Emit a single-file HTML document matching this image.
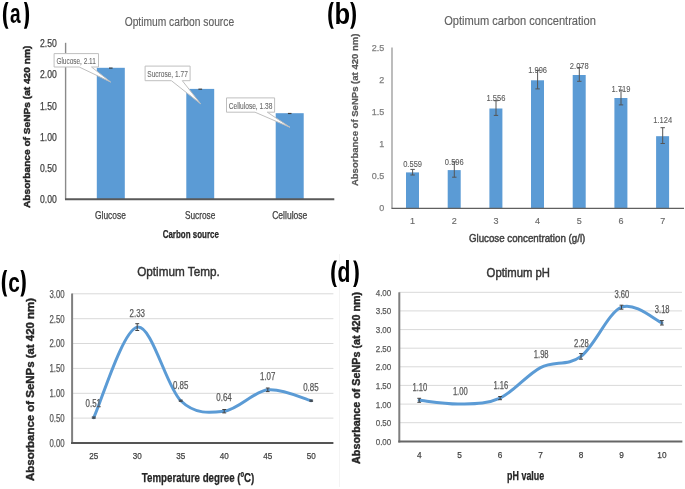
<!DOCTYPE html>
<html><head><meta charset="utf-8"><style>
html,body{margin:0;padding:0;background:#fff;}
svg{display:block;will-change:transform;filter:blur(0.4px);}
text{font-family:"Liberation Sans", sans-serif;}
</style></head><body>
<svg width="685" height="489" viewBox="0 0 685 489">
<rect width="685" height="489" fill="#fff"/>
<line x1="339.5" y1="254.0" x2="339.5" y2="487.0" stroke="#f4f4f4" stroke-width="1"/>
<path d="M5.90,2.00 C1.90,7.90 1.90,22.90 5.90,28.80 L8.50,28.80 C5.43,22.90 5.43,7.90 8.50,2.00 Z" fill="#000"/>
<path d="M26.50,2.00 C29.97,7.90 29.97,22.90 26.50,28.80 L23.90,28.80 C26.43,22.90 26.43,7.90 23.90,2.00 Z" fill="#000"/>
<text x="10.1" y="23.0" font-size="27.8" fill="#000" font-weight="bold" text-anchor="start" textLength="10.6" lengthAdjust="spacingAndGlyphs">a</text>
<path d="M331.20,2.00 C327.20,7.90 327.20,22.90 331.20,28.80 L333.80,28.80 C330.73,22.90 330.73,7.90 333.80,2.00 Z" fill="#000"/>
<path d="M352.70,2.00 C357.10,7.90 357.10,22.90 352.70,28.80 L350.10,28.80 C353.57,22.90 353.57,7.90 350.10,2.00 Z" fill="#000"/>
<text x="334.5" y="23.6" font-size="29.0" fill="#000" font-weight="bold" text-anchor="start" textLength="15.6" lengthAdjust="spacingAndGlyphs">b</text>
<path d="M4.60,270.00 C0.87,275.83 0.87,290.67 4.60,296.50 L7.20,296.50 C4.40,290.67 4.40,275.83 7.20,270.00 Z" fill="#000"/>
<path d="M23.00,270.00 C26.73,275.83 26.73,290.67 23.00,296.50 L20.40,296.50 C23.20,290.67 23.20,275.83 20.40,270.00 Z" fill="#000"/>
<text x="8.3" y="291.5" font-size="28.3" fill="#000" font-weight="bold" text-anchor="start" textLength="11.6" lengthAdjust="spacingAndGlyphs">c</text>
<path d="M334.30,260.40 C330.17,266.23 330.17,281.07 334.30,286.90 L336.90,286.90 C333.70,281.07 333.70,266.23 336.90,260.40 Z" fill="#000"/>
<path d="M355.70,260.40 C359.83,266.23 359.83,281.07 355.70,286.90 L353.10,286.90 C356.30,281.07 356.30,266.23 353.10,260.40 Z" fill="#000"/>
<text x="337.5" y="281.9" font-size="28.7" fill="#000" font-weight="bold" text-anchor="start" textLength="12.9" lengthAdjust="spacingAndGlyphs">d</text>
<text x="124.7" y="25.9" font-size="12.3" fill="#606060" font-weight="normal" text-anchor="start" textLength="109.4" lengthAdjust="spacingAndGlyphs" stroke="#606060" stroke-width="0.15">Optimum carbon source</text>
<text x="40.0" y="202.8" font-size="10.3" fill="#404040" font-weight="normal" text-anchor="start" textLength="16.8" lengthAdjust="spacingAndGlyphs" stroke="#404040" stroke-width="0.25">0.00</text>
<text x="40.0" y="171.7" font-size="10.3" fill="#404040" font-weight="normal" text-anchor="start" textLength="16.8" lengthAdjust="spacingAndGlyphs" stroke="#404040" stroke-width="0.25">0.50</text>
<text x="40.0" y="140.6" font-size="10.3" fill="#404040" font-weight="normal" text-anchor="start" textLength="16.8" lengthAdjust="spacingAndGlyphs" stroke="#404040" stroke-width="0.25">1.00</text>
<text x="40.0" y="109.5" font-size="10.3" fill="#404040" font-weight="normal" text-anchor="start" textLength="16.8" lengthAdjust="spacingAndGlyphs" stroke="#404040" stroke-width="0.25">1.50</text>
<text x="40.0" y="78.4" font-size="10.3" fill="#404040" font-weight="normal" text-anchor="start" textLength="16.8" lengthAdjust="spacingAndGlyphs" stroke="#404040" stroke-width="0.25">2.00</text>
<text x="40.0" y="47.3" font-size="10.3" fill="#404040" font-weight="normal" text-anchor="start" textLength="16.8" lengthAdjust="spacingAndGlyphs" stroke="#404040" stroke-width="0.25">2.50</text>
<line x1="65.6" y1="42.8" x2="65.6" y2="199.5" stroke="#8a8a8a" stroke-width="1.4"/>
<rect x="96.8" y="67.8" width="28.0" height="131.2" fill="#5B9BD5"/>
<line x1="109.0" y1="68.1" x2="112.6" y2="68.1" stroke="#404040" stroke-width="1.2"/>
<text x="95.0" y="218.5" font-size="10.3" fill="#404040" font-weight="normal" text-anchor="start" textLength="30.8" lengthAdjust="spacingAndGlyphs" stroke="#404040" stroke-width="0.25">Glucose</text>
<rect x="186.3" y="88.9" width="27.9" height="110.1" fill="#5B9BD5"/>
<line x1="198.4" y1="89.2" x2="202.1" y2="89.2" stroke="#404040" stroke-width="1.2"/>
<text x="184.9" y="218.5" font-size="10.3" fill="#404040" font-weight="normal" text-anchor="start" textLength="30.5" lengthAdjust="spacingAndGlyphs" stroke="#404040" stroke-width="0.25">Sucrose</text>
<rect x="275.7" y="113.2" width="28.0" height="85.8" fill="#5B9BD5"/>
<line x1="287.9" y1="113.5" x2="291.5" y2="113.5" stroke="#404040" stroke-width="1.2"/>
<text x="272.2" y="218.5" font-size="10.3" fill="#404040" font-weight="normal" text-anchor="start" textLength="35.1" lengthAdjust="spacingAndGlyphs" stroke="#404040" stroke-width="0.25">Cellulose</text>
<line x1="65.0" y1="199.3" x2="334.3" y2="199.3" stroke="#595959" stroke-width="2"/>
<text x="162.7" y="238.0" font-size="10.7" fill="#262626" font-weight="bold" text-anchor="start" textLength="56.2" lengthAdjust="spacingAndGlyphs" stroke="#262626" stroke-width="0.25">Carbon source</text>
<text transform="translate(29.9,208.0) rotate(-90)" font-size="9.9" fill="#262626" font-weight="bold" textLength="162.3" lengthAdjust="spacingAndGlyphs" stroke="#262626" stroke-width="0.45">Absorbance of SeNPs (at 420 nm)</text>
<path d="M54.1,53.6 L98.5,53.6 L98.5,67.0 L91.5,67.0 L110.7,82.1 L79.2,67.0 L54.1,67.0 Z" stroke="#BFBFBF" stroke-width="1" fill="#fff"/>
<text x="56.4" y="63.6" font-size="8.2" fill="#6a6a6a" font-weight="normal" text-anchor="start" textLength="39.4" lengthAdjust="spacingAndGlyphs" stroke="#6a6a6a" stroke-width="0.1">Glucose, 2.11</text>
<path d="M145.1,66.1 L190.1,66.1 L190.1,80.7 L182.3,80.7 L200.6,103.8 L171.4,80.7 L145.1,80.7 Z" stroke="#BFBFBF" stroke-width="1" fill="#fff"/>
<text x="147.3" y="77.3" font-size="8.2" fill="#6a6a6a" font-weight="normal" text-anchor="start" textLength="40.5" lengthAdjust="spacingAndGlyphs" stroke="#6a6a6a" stroke-width="0.1">Sucrose, 1.77</text>
<path d="M226.5,97.9 L274.6,97.9 L274.6,112.2 L267.3,112.2 L290.0,127.3 L255.0,112.2 L226.5,112.2 Z" stroke="#BFBFBF" stroke-width="1" fill="#fff"/>
<text x="228.7" y="108.8" font-size="8.2" fill="#6a6a6a" font-weight="normal" text-anchor="start" textLength="43.7" lengthAdjust="spacingAndGlyphs" stroke="#6a6a6a" stroke-width="0.1">Cellulose, 1.38</text>
<text x="444.2" y="25.2" font-size="11.9" fill="#626262" font-weight="normal" text-anchor="start" textLength="151.7" lengthAdjust="spacingAndGlyphs" stroke="#626262" stroke-width="0.15">Optimum carbon concentration</text>
<text x="384.2" y="211.3" font-size="9" fill="#7f7f7f" font-weight="normal" text-anchor="end" stroke="#7f7f7f" stroke-width="0.25">0</text>
<text x="384.2" y="179.2" font-size="9" fill="#7f7f7f" font-weight="normal" text-anchor="end" stroke="#7f7f7f" stroke-width="0.25">0.5</text>
<text x="384.2" y="147.2" font-size="9" fill="#7f7f7f" font-weight="normal" text-anchor="end" stroke="#7f7f7f" stroke-width="0.25">1</text>
<text x="384.2" y="115.1" font-size="9" fill="#7f7f7f" font-weight="normal" text-anchor="end" stroke="#7f7f7f" stroke-width="0.25">1.5</text>
<text x="384.2" y="83.0" font-size="9" fill="#7f7f7f" font-weight="normal" text-anchor="end" stroke="#7f7f7f" stroke-width="0.25">2</text>
<text x="384.2" y="50.9" font-size="9" fill="#7f7f7f" font-weight="normal" text-anchor="end" stroke="#7f7f7f" stroke-width="0.25">2.5</text>
<line x1="392.0" y1="47.4" x2="392.0" y2="208.5" stroke="#999999" stroke-width="1.3"/>
<rect x="406.0" y="172.4" width="13.0" height="35.9" fill="#5B9BD5"/>
<line x1="412.6" y1="169.4" x2="412.6" y2="175.0" stroke="#555555" stroke-width="1"/>
<line x1="410.4" y1="169.4" x2="414.8" y2="169.4" stroke="#555555" stroke-width="1"/>
<line x1="410.4" y1="175.0" x2="414.8" y2="175.0" stroke="#555555" stroke-width="1"/>
<text x="412.6" y="167.3" font-size="9.8" fill="#5a5a5a" font-weight="normal" text-anchor="middle" textLength="18.9" lengthAdjust="spacingAndGlyphs" stroke="#5a5a5a" stroke-width="0.1">0.559</text>
<text x="412.6" y="223.6" font-size="9" fill="#6a6a6a" font-weight="normal" text-anchor="middle" stroke="#6a6a6a" stroke-width="0.15">1</text>
<rect x="447.7" y="170.1" width="13.0" height="38.2" fill="#5B9BD5"/>
<line x1="454.3" y1="161.9" x2="454.3" y2="177.2" stroke="#555555" stroke-width="1"/>
<line x1="452.1" y1="161.9" x2="456.5" y2="161.9" stroke="#555555" stroke-width="1"/>
<line x1="452.1" y1="177.2" x2="456.5" y2="177.2" stroke="#555555" stroke-width="1"/>
<text x="454.3" y="165.0" font-size="9.8" fill="#5a5a5a" font-weight="normal" text-anchor="middle" textLength="18.9" lengthAdjust="spacingAndGlyphs" stroke="#5a5a5a" stroke-width="0.1">0.596</text>
<text x="454.3" y="223.6" font-size="9" fill="#6a6a6a" font-weight="normal" text-anchor="middle" stroke="#6a6a6a" stroke-width="0.15">2</text>
<rect x="489.4" y="108.5" width="13.0" height="99.8" fill="#5B9BD5"/>
<line x1="496.0" y1="100.7" x2="496.0" y2="115.4" stroke="#555555" stroke-width="1"/>
<line x1="493.8" y1="100.7" x2="498.2" y2="100.7" stroke="#555555" stroke-width="1"/>
<line x1="493.8" y1="115.4" x2="498.2" y2="115.4" stroke="#555555" stroke-width="1"/>
<text x="496.0" y="100.9" font-size="9.8" fill="#5a5a5a" font-weight="normal" text-anchor="middle" textLength="18.9" lengthAdjust="spacingAndGlyphs" stroke="#5a5a5a" stroke-width="0.1">1.556</text>
<text x="496.0" y="223.6" font-size="9" fill="#6a6a6a" font-weight="normal" text-anchor="middle" stroke="#6a6a6a" stroke-width="0.15">3</text>
<rect x="531.0" y="80.3" width="13.0" height="128.0" fill="#5B9BD5"/>
<line x1="537.6" y1="70.4" x2="537.6" y2="88.9" stroke="#555555" stroke-width="1"/>
<line x1="535.4" y1="70.4" x2="539.8" y2="70.4" stroke="#555555" stroke-width="1"/>
<line x1="535.4" y1="88.9" x2="539.8" y2="88.9" stroke="#555555" stroke-width="1"/>
<text x="537.6" y="72.6" font-size="9.8" fill="#5a5a5a" font-weight="normal" text-anchor="middle" textLength="18.9" lengthAdjust="spacingAndGlyphs" stroke="#5a5a5a" stroke-width="0.1">1.996</text>
<text x="537.6" y="223.6" font-size="9" fill="#6a6a6a" font-weight="normal" text-anchor="middle" stroke="#6a6a6a" stroke-width="0.15">4</text>
<rect x="572.7" y="75.0" width="13.0" height="133.3" fill="#5B9BD5"/>
<line x1="579.3" y1="67.5" x2="579.3" y2="81.3" stroke="#555555" stroke-width="1"/>
<line x1="577.1" y1="67.5" x2="581.5" y2="67.5" stroke="#555555" stroke-width="1"/>
<line x1="577.1" y1="81.3" x2="581.5" y2="81.3" stroke="#555555" stroke-width="1"/>
<text x="579.3" y="69.2" font-size="9.8" fill="#5a5a5a" font-weight="normal" text-anchor="middle" textLength="18.9" lengthAdjust="spacingAndGlyphs" stroke="#5a5a5a" stroke-width="0.1">2.078</text>
<text x="579.3" y="223.6" font-size="9" fill="#6a6a6a" font-weight="normal" text-anchor="middle" stroke="#6a6a6a" stroke-width="0.15">5</text>
<rect x="614.4" y="98.0" width="13.0" height="110.3" fill="#5B9BD5"/>
<line x1="621.0" y1="90.1" x2="621.0" y2="104.9" stroke="#555555" stroke-width="1"/>
<line x1="618.8" y1="90.1" x2="623.2" y2="90.1" stroke="#555555" stroke-width="1"/>
<line x1="618.8" y1="104.9" x2="623.2" y2="104.9" stroke="#555555" stroke-width="1"/>
<text x="621.0" y="92.2" font-size="9.8" fill="#5a5a5a" font-weight="normal" text-anchor="middle" textLength="18.9" lengthAdjust="spacingAndGlyphs" stroke="#5a5a5a" stroke-width="0.1">1.719</text>
<text x="621.0" y="223.6" font-size="9" fill="#6a6a6a" font-weight="normal" text-anchor="middle" stroke="#6a6a6a" stroke-width="0.15">6</text>
<rect x="656.1" y="136.2" width="13.0" height="72.1" fill="#5B9BD5"/>
<line x1="662.7" y1="127.7" x2="662.7" y2="143.5" stroke="#555555" stroke-width="1"/>
<line x1="660.5" y1="127.7" x2="664.9" y2="127.7" stroke="#555555" stroke-width="1"/>
<line x1="660.5" y1="143.5" x2="664.9" y2="143.5" stroke="#555555" stroke-width="1"/>
<text x="662.7" y="122.9" font-size="9.8" fill="#5a5a5a" font-weight="normal" text-anchor="middle" textLength="18.9" lengthAdjust="spacingAndGlyphs" stroke="#5a5a5a" stroke-width="0.1">1.124</text>
<text x="662.7" y="223.6" font-size="9" fill="#6a6a6a" font-weight="normal" text-anchor="middle" stroke="#6a6a6a" stroke-width="0.15">7</text>
<line x1="391.5" y1="208.4" x2="684.0" y2="208.4" stroke="#606060" stroke-width="1.3"/>
<text x="468.9" y="242.4" font-size="10.8" fill="#404040" font-weight="normal" text-anchor="start" textLength="116.4" lengthAdjust="spacingAndGlyphs" stroke="#404040" stroke-width="0.45">Glucose concentration (g/l)</text>
<text transform="translate(358.0,186.1) rotate(-90)" font-size="9.2" fill="#595959" font-weight="bold" textLength="152.5" lengthAdjust="spacingAndGlyphs" stroke="#595959" stroke-width="0.25">Absorbance of SeNPs (at 420 nm)</text>
<line x1="72.0" y1="418.1" x2="333.4" y2="418.1" stroke="#d9d9d9" stroke-width="1"/>
<line x1="72.0" y1="393.3" x2="333.4" y2="393.3" stroke="#d9d9d9" stroke-width="1"/>
<line x1="72.0" y1="368.4" x2="333.4" y2="368.4" stroke="#d9d9d9" stroke-width="1"/>
<line x1="72.0" y1="343.5" x2="333.4" y2="343.5" stroke="#d9d9d9" stroke-width="1"/>
<line x1="72.0" y1="318.7" x2="333.4" y2="318.7" stroke="#d9d9d9" stroke-width="1"/>
<line x1="72.0" y1="293.8" x2="333.4" y2="293.8" stroke="#d9d9d9" stroke-width="1"/>
<text x="49.4" y="446.9" font-size="10" fill="#595959" font-weight="normal" text-anchor="start" textLength="15.2" lengthAdjust="spacingAndGlyphs" stroke="#595959" stroke-width="0.25">0.00</text>
<text x="49.4" y="422.0" font-size="10" fill="#595959" font-weight="normal" text-anchor="start" textLength="15.2" lengthAdjust="spacingAndGlyphs" stroke="#595959" stroke-width="0.25">0.50</text>
<text x="49.4" y="397.2" font-size="10" fill="#595959" font-weight="normal" text-anchor="start" textLength="15.2" lengthAdjust="spacingAndGlyphs" stroke="#595959" stroke-width="0.25">1.00</text>
<text x="49.4" y="372.3" font-size="10" fill="#595959" font-weight="normal" text-anchor="start" textLength="15.2" lengthAdjust="spacingAndGlyphs" stroke="#595959" stroke-width="0.25">1.50</text>
<text x="49.4" y="347.4" font-size="10" fill="#595959" font-weight="normal" text-anchor="start" textLength="15.2" lengthAdjust="spacingAndGlyphs" stroke="#595959" stroke-width="0.25">2.00</text>
<text x="49.4" y="322.6" font-size="10" fill="#595959" font-weight="normal" text-anchor="start" textLength="15.2" lengthAdjust="spacingAndGlyphs" stroke="#595959" stroke-width="0.25">2.50</text>
<text x="49.4" y="297.7" font-size="10" fill="#595959" font-weight="normal" text-anchor="start" textLength="15.2" lengthAdjust="spacingAndGlyphs" stroke="#595959" stroke-width="0.25">3.00</text>
<line x1="72.1" y1="293.5" x2="72.1" y2="444.0" stroke="#7f7f7f" stroke-width="2"/>
<line x1="71.1" y1="443.1" x2="333.4" y2="443.1" stroke="#555555" stroke-width="2"/>
<path d="M93.75,417.64 C101.00,402.55 122.75,329.95 137.25,327.13 C151.75,324.31 166.25,386.72 180.75,400.73 C195.25,414.74 209.75,413.00 224.25,411.17 C238.75,409.35 253.25,391.53 267.75,389.79 C282.25,388.05 304.00,398.91 311.25,400.73" stroke="#5B9BD5" stroke-width="3.0" fill="none" stroke-linecap="round"/>
<line x1="93.8" y1="417.0" x2="93.8" y2="418.2" stroke="#404040" stroke-width="1"/>
<line x1="91.8" y1="417.0" x2="95.7" y2="417.0" stroke="#404040" stroke-width="1"/>
<line x1="91.8" y1="418.2" x2="95.7" y2="418.2" stroke="#404040" stroke-width="1"/>
<line x1="137.2" y1="323.7" x2="137.2" y2="330.5" stroke="#404040" stroke-width="1"/>
<line x1="135.3" y1="323.7" x2="139.2" y2="323.7" stroke="#404040" stroke-width="1"/>
<line x1="135.3" y1="330.5" x2="139.2" y2="330.5" stroke="#404040" stroke-width="1"/>
<line x1="180.8" y1="400.1" x2="180.8" y2="401.3" stroke="#404040" stroke-width="1"/>
<line x1="178.8" y1="400.1" x2="182.7" y2="400.1" stroke="#404040" stroke-width="1"/>
<line x1="178.8" y1="401.3" x2="182.7" y2="401.3" stroke="#404040" stroke-width="1"/>
<line x1="224.2" y1="409.5" x2="224.2" y2="412.9" stroke="#404040" stroke-width="1"/>
<line x1="222.3" y1="409.5" x2="226.2" y2="409.5" stroke="#404040" stroke-width="1"/>
<line x1="222.3" y1="412.9" x2="226.2" y2="412.9" stroke="#404040" stroke-width="1"/>
<line x1="267.8" y1="388.0" x2="267.8" y2="391.6" stroke="#404040" stroke-width="1"/>
<line x1="265.9" y1="388.0" x2="269.6" y2="388.0" stroke="#404040" stroke-width="1"/>
<line x1="265.9" y1="391.6" x2="269.6" y2="391.6" stroke="#404040" stroke-width="1"/>
<line x1="311.2" y1="400.1" x2="311.2" y2="401.3" stroke="#404040" stroke-width="1"/>
<line x1="309.4" y1="400.1" x2="313.1" y2="400.1" stroke="#404040" stroke-width="1"/>
<line x1="309.4" y1="401.3" x2="313.1" y2="401.3" stroke="#404040" stroke-width="1"/>
<text x="93.3" y="406.9" font-size="10.2" fill="#595959" font-weight="normal" text-anchor="middle" textLength="15.4" lengthAdjust="spacingAndGlyphs" stroke="#595959" stroke-width="0.25">0.51</text>
<text x="137.3" y="316.6" font-size="10.2" fill="#595959" font-weight="normal" text-anchor="middle" textLength="15.4" lengthAdjust="spacingAndGlyphs" stroke="#595959" stroke-width="0.25">2.33</text>
<text x="180.7" y="389.4" font-size="10.2" fill="#595959" font-weight="normal" text-anchor="middle" textLength="15.4" lengthAdjust="spacingAndGlyphs" stroke="#595959" stroke-width="0.25">0.85</text>
<text x="224.0" y="400.9" font-size="10.2" fill="#595959" font-weight="normal" text-anchor="middle" textLength="15.4" lengthAdjust="spacingAndGlyphs" stroke="#595959" stroke-width="0.25">0.64</text>
<text x="267.7" y="379.6" font-size="10.2" fill="#595959" font-weight="normal" text-anchor="middle" textLength="15.4" lengthAdjust="spacingAndGlyphs" stroke="#595959" stroke-width="0.25">1.07</text>
<text x="310.9" y="390.6" font-size="10.2" fill="#595959" font-weight="normal" text-anchor="middle" textLength="15.4" lengthAdjust="spacingAndGlyphs" stroke="#595959" stroke-width="0.25">0.85</text>
<text x="93.8" y="458.9" font-size="9.8" fill="#404040" font-weight="normal" text-anchor="middle" textLength="9.0" lengthAdjust="spacingAndGlyphs" stroke="#404040" stroke-width="0.25">25</text>
<text x="137.2" y="458.9" font-size="9.8" fill="#404040" font-weight="normal" text-anchor="middle" textLength="9.0" lengthAdjust="spacingAndGlyphs" stroke="#404040" stroke-width="0.25">30</text>
<text x="180.8" y="458.9" font-size="9.8" fill="#404040" font-weight="normal" text-anchor="middle" textLength="9.0" lengthAdjust="spacingAndGlyphs" stroke="#404040" stroke-width="0.25">35</text>
<text x="224.2" y="458.9" font-size="9.8" fill="#404040" font-weight="normal" text-anchor="middle" textLength="9.0" lengthAdjust="spacingAndGlyphs" stroke="#404040" stroke-width="0.25">40</text>
<text x="267.8" y="458.9" font-size="9.8" fill="#404040" font-weight="normal" text-anchor="middle" textLength="9.0" lengthAdjust="spacingAndGlyphs" stroke="#404040" stroke-width="0.25">45</text>
<text x="311.2" y="458.9" font-size="9.8" fill="#404040" font-weight="normal" text-anchor="middle" textLength="9.0" lengthAdjust="spacingAndGlyphs" stroke="#404040" stroke-width="0.25">50</text>
<text x="137.2" y="275.5" font-size="13.6" fill="#333333" font-weight="normal" text-anchor="start" textLength="82.6" lengthAdjust="spacingAndGlyphs" stroke="#333333" stroke-width="0.45">Optimum Temp.</text>
<text x="141.8" y="481.8" font-size="12" fill="#262626" font-weight="bold" text-anchor="start" textLength="112.5" lengthAdjust="spacingAndGlyphs" stroke="#262626" stroke-width="0.25">Temperature degree (ºC)</text>
<text transform="translate(34.2,480.9) rotate(-90)" font-size="10.8" fill="#262626" font-weight="bold" textLength="182.9" lengthAdjust="spacingAndGlyphs" stroke="#262626" stroke-width="0.4">Absorbance of SeNPs (at 420 nm)</text>
<line x1="399.0" y1="422.7" x2="682.0" y2="422.7" stroke="#d9d9d9" stroke-width="1"/>
<line x1="399.0" y1="404.1" x2="682.0" y2="404.1" stroke="#d9d9d9" stroke-width="1"/>
<line x1="399.0" y1="385.4" x2="682.0" y2="385.4" stroke="#d9d9d9" stroke-width="1"/>
<line x1="399.0" y1="366.8" x2="682.0" y2="366.8" stroke="#d9d9d9" stroke-width="1"/>
<line x1="399.0" y1="348.2" x2="682.0" y2="348.2" stroke="#d9d9d9" stroke-width="1"/>
<line x1="399.0" y1="329.6" x2="682.0" y2="329.6" stroke="#d9d9d9" stroke-width="1"/>
<line x1="399.0" y1="310.9" x2="682.0" y2="310.9" stroke="#d9d9d9" stroke-width="1"/>
<line x1="399.0" y1="292.3" x2="682.0" y2="292.3" stroke="#d9d9d9" stroke-width="1"/>
<text x="375.7" y="444.8" font-size="9.8" fill="#595959" font-weight="normal" text-anchor="start" textLength="15.6" lengthAdjust="spacingAndGlyphs" stroke="#595959" stroke-width="0.25">0.00</text>
<text x="375.7" y="426.2" font-size="9.8" fill="#595959" font-weight="normal" text-anchor="start" textLength="15.6" lengthAdjust="spacingAndGlyphs" stroke="#595959" stroke-width="0.25">0.50</text>
<text x="375.7" y="407.6" font-size="9.8" fill="#595959" font-weight="normal" text-anchor="start" textLength="15.6" lengthAdjust="spacingAndGlyphs" stroke="#595959" stroke-width="0.25">1.00</text>
<text x="375.7" y="388.9" font-size="9.8" fill="#595959" font-weight="normal" text-anchor="start" textLength="15.6" lengthAdjust="spacingAndGlyphs" stroke="#595959" stroke-width="0.25">1.50</text>
<text x="375.7" y="370.3" font-size="9.8" fill="#595959" font-weight="normal" text-anchor="start" textLength="15.6" lengthAdjust="spacingAndGlyphs" stroke="#595959" stroke-width="0.25">2.00</text>
<text x="375.7" y="351.7" font-size="9.8" fill="#595959" font-weight="normal" text-anchor="start" textLength="15.6" lengthAdjust="spacingAndGlyphs" stroke="#595959" stroke-width="0.25">2.50</text>
<text x="375.7" y="333.1" font-size="9.8" fill="#595959" font-weight="normal" text-anchor="start" textLength="15.6" lengthAdjust="spacingAndGlyphs" stroke="#595959" stroke-width="0.25">3.00</text>
<text x="375.7" y="314.4" font-size="9.8" fill="#595959" font-weight="normal" text-anchor="start" textLength="15.6" lengthAdjust="spacingAndGlyphs" stroke="#595959" stroke-width="0.25">3.50</text>
<text x="375.7" y="295.8" font-size="9.8" fill="#595959" font-weight="normal" text-anchor="start" textLength="15.6" lengthAdjust="spacingAndGlyphs" stroke="#595959" stroke-width="0.25">4.00</text>
<line x1="399.3" y1="292.3" x2="399.3" y2="442.5" stroke="#7f7f7f" stroke-width="2"/>
<line x1="398.3" y1="441.5" x2="682.4" y2="441.5" stroke="#666666" stroke-width="2"/>
<path d="M419.20,400.32 C425.94,400.95 446.17,404.42 459.65,404.05 C473.13,403.68 486.62,404.17 500.10,398.09 C513.58,392.01 527.07,374.50 540.55,367.55 C554.03,360.59 567.52,366.43 581.00,356.37 C594.48,346.31 607.97,312.79 621.45,307.20 C634.93,301.61 655.16,320.24 661.90,322.85" stroke="#5B9BD5" stroke-width="3.0" fill="none" stroke-linecap="round"/>
<line x1="419.2" y1="398.3" x2="419.2" y2="402.3" stroke="#404040" stroke-width="1"/>
<line x1="417.3" y1="398.3" x2="421.1" y2="398.3" stroke="#404040" stroke-width="1"/>
<line x1="417.3" y1="402.3" x2="421.1" y2="402.3" stroke="#404040" stroke-width="1"/>
<line x1="500.1" y1="396.5" x2="500.1" y2="399.7" stroke="#404040" stroke-width="1"/>
<line x1="498.2" y1="396.5" x2="502.0" y2="396.5" stroke="#404040" stroke-width="1"/>
<line x1="498.2" y1="399.7" x2="502.0" y2="399.7" stroke="#404040" stroke-width="1"/>
<line x1="581.0" y1="353.6" x2="581.0" y2="359.2" stroke="#404040" stroke-width="1"/>
<line x1="579.1" y1="353.6" x2="582.9" y2="353.6" stroke="#404040" stroke-width="1"/>
<line x1="579.1" y1="359.2" x2="582.9" y2="359.2" stroke="#404040" stroke-width="1"/>
<line x1="621.5" y1="305.2" x2="621.5" y2="309.2" stroke="#404040" stroke-width="1"/>
<line x1="619.6" y1="305.2" x2="623.4" y2="305.2" stroke="#404040" stroke-width="1"/>
<line x1="619.6" y1="309.2" x2="623.4" y2="309.2" stroke="#404040" stroke-width="1"/>
<line x1="661.9" y1="320.6" x2="661.9" y2="325.0" stroke="#404040" stroke-width="1"/>
<line x1="660.0" y1="320.6" x2="663.8" y2="320.6" stroke="#404040" stroke-width="1"/>
<line x1="660.0" y1="325.0" x2="663.8" y2="325.0" stroke="#404040" stroke-width="1"/>
<text x="419.9" y="391.2" font-size="10.0" fill="#595959" font-weight="normal" text-anchor="middle" textLength="14.8" lengthAdjust="spacingAndGlyphs" stroke="#595959" stroke-width="0.25">1.10</text>
<text x="460.3" y="394.7" font-size="10.0" fill="#595959" font-weight="normal" text-anchor="middle" textLength="14.8" lengthAdjust="spacingAndGlyphs" stroke="#595959" stroke-width="0.25">1.00</text>
<text x="500.9" y="389.3" font-size="10.0" fill="#595959" font-weight="normal" text-anchor="middle" textLength="14.8" lengthAdjust="spacingAndGlyphs" stroke="#595959" stroke-width="0.25">1.16</text>
<text x="541.2" y="358.4" font-size="10.0" fill="#595959" font-weight="normal" text-anchor="middle" textLength="14.8" lengthAdjust="spacingAndGlyphs" stroke="#595959" stroke-width="0.25">1.98</text>
<text x="581.4" y="347.1" font-size="10.0" fill="#595959" font-weight="normal" text-anchor="middle" textLength="14.8" lengthAdjust="spacingAndGlyphs" stroke="#595959" stroke-width="0.25">2.28</text>
<text x="621.9" y="298.2" font-size="10.0" fill="#595959" font-weight="normal" text-anchor="middle" textLength="14.8" lengthAdjust="spacingAndGlyphs" stroke="#595959" stroke-width="0.25">3.60</text>
<text x="662.2" y="313.4" font-size="10.0" fill="#595959" font-weight="normal" text-anchor="middle" textLength="14.8" lengthAdjust="spacingAndGlyphs" stroke="#595959" stroke-width="0.25">3.18</text>
<text x="419.2" y="457.9" font-size="9.8" fill="#404040" font-weight="normal" text-anchor="middle" textLength="4.6" lengthAdjust="spacingAndGlyphs" stroke="#404040" stroke-width="0.25">4</text>
<text x="459.6" y="457.9" font-size="9.8" fill="#404040" font-weight="normal" text-anchor="middle" textLength="4.6" lengthAdjust="spacingAndGlyphs" stroke="#404040" stroke-width="0.25">5</text>
<text x="500.1" y="457.9" font-size="9.8" fill="#404040" font-weight="normal" text-anchor="middle" textLength="4.6" lengthAdjust="spacingAndGlyphs" stroke="#404040" stroke-width="0.25">6</text>
<text x="540.5" y="457.9" font-size="9.8" fill="#404040" font-weight="normal" text-anchor="middle" textLength="4.6" lengthAdjust="spacingAndGlyphs" stroke="#404040" stroke-width="0.25">7</text>
<text x="581.0" y="457.9" font-size="9.8" fill="#404040" font-weight="normal" text-anchor="middle" textLength="4.6" lengthAdjust="spacingAndGlyphs" stroke="#404040" stroke-width="0.25">8</text>
<text x="621.5" y="457.9" font-size="9.8" fill="#404040" font-weight="normal" text-anchor="middle" textLength="4.6" lengthAdjust="spacingAndGlyphs" stroke="#404040" stroke-width="0.25">9</text>
<text x="661.9" y="457.9" font-size="9.8" fill="#404040" font-weight="normal" text-anchor="middle" textLength="9.2" lengthAdjust="spacingAndGlyphs" stroke="#404040" stroke-width="0.25">10</text>
<text x="486.6" y="277.4" font-size="12.7" fill="#333333" font-weight="normal" text-anchor="start" textLength="63.4" lengthAdjust="spacingAndGlyphs" stroke="#333333" stroke-width="0.45">Optimum pH</text>
<text x="507.1" y="479.7" font-size="12" fill="#262626" font-weight="bold" text-anchor="start" textLength="37.1" lengthAdjust="spacingAndGlyphs" stroke="#262626" stroke-width="0.25">pH value</text>
<text transform="translate(360.1,463.9) rotate(-90)" font-size="10.2" fill="#262626" font-weight="bold" textLength="172.1" lengthAdjust="spacingAndGlyphs" stroke="#262626" stroke-width="0.4">Absorbance of SeNPs (at 420 nm)</text>
</svg>
</body></html>
